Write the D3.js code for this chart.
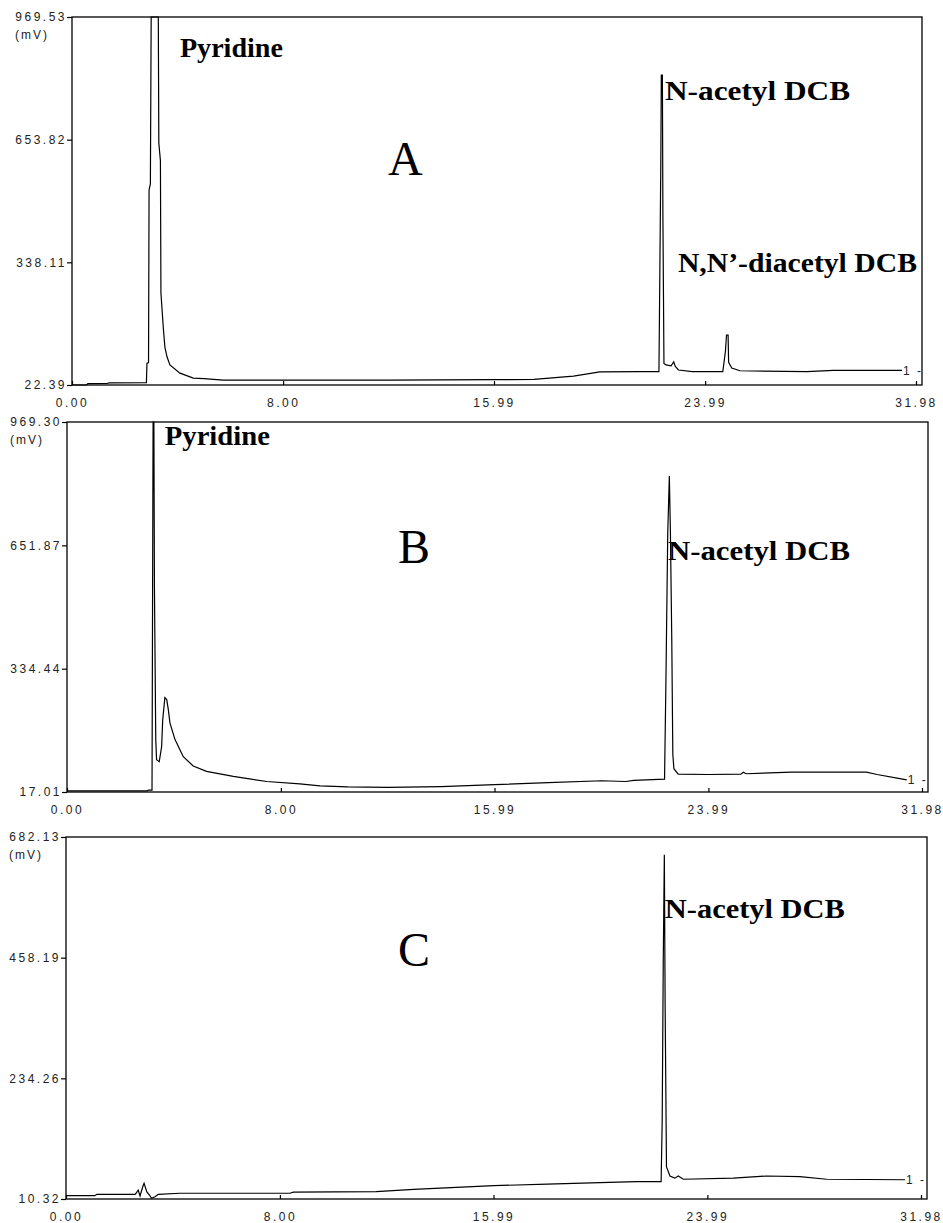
<!DOCTYPE html>
<html lang="en">
<head>
<meta charset="UTF-8">
<title>Chromatograms A B C</title>
<script src="https://d3js.org/d3.v7.min.js"></script>
<style>
  body { margin: 0; background: #fff; }
  .tick text { font-family: "Liberation Sans", Arial, sans-serif; font-size: 12px; letter-spacing: 2.5px; fill: #222; }
  .tick line { stroke: #000; stroke-width: 1.2; }
  .peak { font-family: "Liberation Serif", serif; font-weight: bold; font-size: 27px; fill: #000; }
  .panel-letter { font-family: "Liberation Serif", serif; font-size: 48px; fill: #000; }
  .unit, .chan { font-family: "Liberation Sans", Arial, sans-serif; font-size: 12px; letter-spacing: 2px; fill: #222; }
</style>
</head>
<body>
<div id="chart"></div>
<script>
// retention time ticks (min), same on all three runs
var xTicks = [0.00, 8.00, 15.99, 23.99, 31.98];

// y tick values (mV) printed by the integrator
var yTicksA = [22.39, 338.11, 653.82, 969.53];
var yTicksB = [17.01, 334.44, 651.87, 969.30];
var yTicksC = [10.32, 234.26, 458.19, 682.13];

// traces: [time (min), signal (mV)]
var traceA = [
  [0, 22.4], [0.55, 22.6], [0.6, 26], [1.35, 26.5], [1.4, 28], [2.82, 28.5], [2.84, 78], [2.9, 80],
  [2.92, 524], [2.97, 540], [3.0, 969.53], [3.27, 969.53], [3.29, 645], [3.35, 600], [3.37, 259],
  [3.46, 169], [3.52, 120], [3.6, 95], [3.71, 74], [4.09, 53], [4.6, 40], [5.0, 39], [5.73, 35],
  [8.07, 35], [12, 35], [16, 36], [17.5, 37], [19, 45], [20, 56], [21.5, 57], [22.24, 57],
  [22.26, 207], [22.31, 589], [22.33, 820], [22.37, 820], [22.39, 455], [22.43, 78], [22.51, 74],
  [22.7, 72], [22.8, 82], [22.86, 70], [22.98, 61], [23.5, 57], [24.66, 57], [24.76, 110],
  [24.8, 151], [24.86, 151], [24.88, 81], [25.0, 66], [25.31, 59], [27.84, 57], [28.85, 60],
  [31.45, 60]
];
var traceB = [
  [0, 20], [3.0, 20], [3.05, 22], [3.18, 22], [3.2, 493], [3.22, 969.3], [3.25, 969.3], [3.27, 548],
  [3.32, 152], [3.35, 100], [3.45, 95], [3.54, 134], [3.58, 203], [3.66, 260], [3.73, 255],
  [3.79, 229], [3.85, 195], [4.04, 152], [4.35, 108], [4.72, 84], [5.22, 70], [6.22, 57],
  [7.47, 44], [8.71, 38], [9.46, 33], [10.5, 30], [12, 29], [14, 31], [16, 36], [18, 41],
  [20, 46], [20.9, 44], [21.2, 47], [22.35, 50], [22.4, 294], [22.47, 683], [22.53, 830],
  [22.57, 683], [22.62, 414], [22.66, 114], [22.7, 77], [22.86, 63], [24, 62], [25.2, 63],
  [25.3, 68], [25.4, 64], [27.1, 68], [29.9, 68], [30.3, 62], [31.1, 52], [31.41, 48]
];
var traceC = [
  [0, 16.4], [1.08, 16.4], [1.15, 19], [2.58, 19], [2.62, 21], [2.7, 27], [2.77, 16], [2.87, 33],
  [2.92, 39.5], [3.02, 24], [3.12, 17.7], [3.2, 11.6], [3.33, 14.6], [3.45, 19], [4.26, 21],
  [8.38, 21], [8.5, 23], [11.6, 24], [13, 28], [15, 33], [16, 35], [18, 38], [19.97, 40.6],
  [21.34, 42.4], [22.26, 42.4], [22.3, 157], [22.34, 454], [22.38, 649], [22.41, 367],
  [22.46, 70], [22.59, 53], [22.77, 49], [22.9, 53], [23.09, 47], [24.96, 49], [26.2, 53],
  [27.45, 52], [28.45, 47], [31.38, 46]
];

// peak names, anchored in data units (time, mV)
var labelsA = [
  {text: "Pyridine", t: 4.09, v: 866, w: 103},
  {text: "N-acetyl DCB", t: 22.47, v: 756, w: 185},
  {text: "N,N\u2019-diacetyl DCB", t: 22.96, v: 313, w: 239}
];
var labelsB = [
  {text: "Pyridine", t: 3.66, v: 910, w: 105},
  {text: "N-acetyl DCB", t: 22.48, v: 614, w: 182}
];
var labelsC = [
  {text: "N-acetyl DCB", t: 22.40, v: 532, w: 180}
];

var panels = [
  {name: "A", trace: traceA, yTicks: yTicksA, labels: labelsA, letter: [11.97, 563],
   left: 72, right: 922, xEnd: 916, top: 17, bottom: 385},
  {name: "B", trace: traceB, yTicks: yTicksB, labels: labelsB, letter: [12.38, 606],
   left: 67, right: 928, xEnd: 922, top: 422, bottom: 792},
  {name: "C", trace: traceC, yTicks: yTicksC, labels: labelsC, letter: [12.42, 443],
   left: 66, right: 927, xEnd: 921, top: 837, bottom: 1199}
];

var svg = d3.select("#chart").append("svg")
    .attr("width", 943)
    .attr("height", 1223);

panels.forEach(function(p) {
  var x = d3.scaleLinear()
      .domain([xTicks[0], xTicks[xTicks.length - 1]])
      .range([p.left, p.xEnd]);
  var y = d3.scaleLinear()
      .domain([p.yTicks[0], p.yTicks[p.yTicks.length - 1]])
      .range([p.bottom, p.top]);

  var g = svg.append("g").attr("class", "panel");

  // frame
  g.append("rect")
      .attr("x", p.left)
      .attr("y", p.top)
      .attr("width", p.right - p.left)
      .attr("height", p.bottom - p.top)
      .style("fill", "none")
      .style("stroke", "#000")
      .style("stroke-width", 1.3);

  g.append("g")
      .attr("class", "y axis")
      .attr("transform", "translate(" + p.left + ",0)")
      .call(d3.axisLeft(y).tickValues(p.yTicks).tickFormat(d3.format(".2f")).tickSize(5).tickPadding(0))
      .call(function(a) { a.select(".domain").remove(); });

  g.append("g")
      .attr("class", "x axis")
      .attr("transform", "translate(0," + p.bottom + ")")
      .call(d3.axisBottom(x).tickValues(xTicks).tickFormat(d3.format(".2f")).tickSize(-4).tickPadding(13))
      .call(function(a) { a.select(".domain").remove(); });

  g.append("text")
      .attr("class", "unit")
      .attr("x", p.left - 57)
      .attr("y", p.top + 18)
      .attr("dy", ".35em")
      .text("(mV)");

  var line = d3.line()
      .x(function(d) { return x(d[0]); })
      .y(function(d) { return y(d[1]); });

  g.append("path")
      .datum(p.trace)
      .attr("d", line)
      .style("fill", "none")
      .style("stroke", "#000")
      .style("stroke-width", 1.2)
      .style("stroke-linejoin", "miter");

  // channel marker at the end of the run
  var last = p.trace[p.trace.length - 1];
  g.append("text")
      .attr("class", "chan")
      .attr("x", x(last[0]) + 1)
      .attr("y", y(last[1]))
      .attr("dy", ".35em")
      .text("1 -");

  g.selectAll(".peak")
      .data(p.labels)
    .enter().append("text")
      .attr("class", "peak")
      .attr("x", function(d) { return x(d.t); })
      .attr("y", function(d) { return y(d.v); })
      .attr("textLength", function(d) { return d.w; })
      .attr("lengthAdjust", "spacingAndGlyphs")
      .text(function(d) { return d.text; });

  g.append("text")
      .attr("class", "panel-letter")
      .attr("x", x(p.letter[0]))
      .attr("y", y(p.letter[1]))
      .text(p.name);
});
</script>
</body>
</html>
